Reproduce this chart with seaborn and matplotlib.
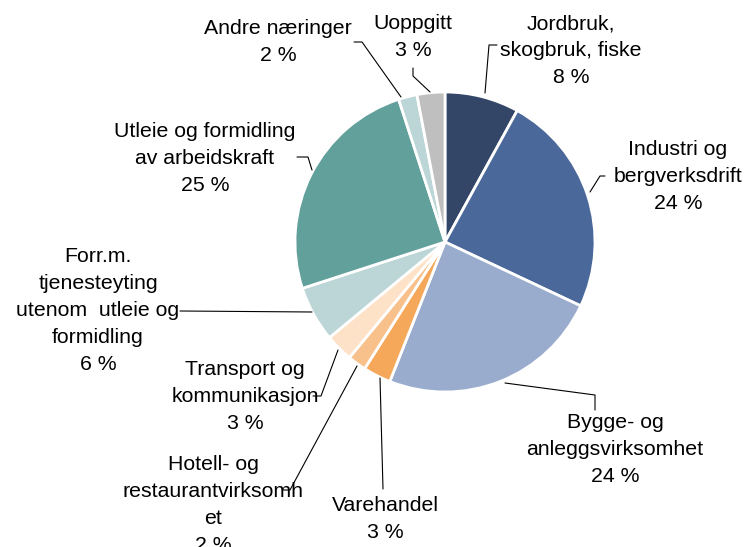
import matplotlib
matplotlib.use("Agg")
import matplotlib.pyplot as plt
import seaborn as sns

sns.set_theme(style="white")
plt.rcParams['font.family'] = ['Liberation Sans', 'DejaVu Sans']

categories = ["Jordbruk,\nskogbruk, fiske", "Industri og\nbergverksdrift",
              "Bygge- og\nanleggsvirksomhet", "Varehandel",
              "Hotell- og\nrestaurantvirksomh\net", "Transport og\nkommunikasjon",
              "Forr.m.\ntjenesteyting\nutenom  utleie og\nformidling",
              "Utleie og formidling\nav arbeidskraft", "Andre næringer", "Uoppgitt"]
values = [8, 24, 24, 3, 2, 3, 6, 25, 2, 3]
colors = ["#344668", "#4a6899", "#9aaccd", "#f5a85a", "#f8c08a", "#fde2c8",
          "#bcd5d6", "#62a09c", "#bcd5d6", "#bfbfbf"]

W, H = 744, 547
fig = plt.figure(figsize=(W / 100, H / 100), dpi=100)
ax = fig.add_axes([0, 0, 1, 1])

cx, cy, r = 445, 242, 150
ax.pie(values, colors=colors, startangle=-90, counterclock=True,
       center=(cx, cy), radius=r, frame=True,
       wedgeprops=dict(edgecolor='white', linewidth=2))
ax.set_xlim(0, W)
ax.set_ylim(H, 0)
ax.set_aspect('equal')
ax.axis('off')

# label positions (center x, top y) and leader lines in pixel coords
label_pos = [(571, 14), (678, 140), (615, 413), (385, 496), (213, 455),
             (245, 360), (98, 247), (205, 122), (278, 19), (413, 14)]
leaders = [
    [(497, 45), (489, 45), (485, 93)],
    [(605, 176), (600, 176), (590, 192)],
    [(595, 410), (595, 395), (505, 383)],
    [(383, 489), (380, 378)],
    [(283, 490), (290, 490), (357, 366)],
    [(313, 396), (321, 396), (338, 350)],
    [(180, 311), (312, 312)],
    [(297, 157), (308, 157), (312, 170)],
    [(354, 42), (362, 42), (401, 97)],
    [(413, 68), (413, 76), (430, 92)],
]

for cat, v, (x, y) in zip(categories, values, label_pos):
    ax.text(x, y, f"{cat}\n{v} %", ha='center', va='top', fontsize=15.3,
            linespacing=1.53, color='black')
for pts in leaders:
    xs = [p[0] for p in pts]
    ys = [p[1] for p in pts]
    ax.plot(xs, ys, color='black', linewidth=0.8)

fig.savefig("out.png", dpi=100)
